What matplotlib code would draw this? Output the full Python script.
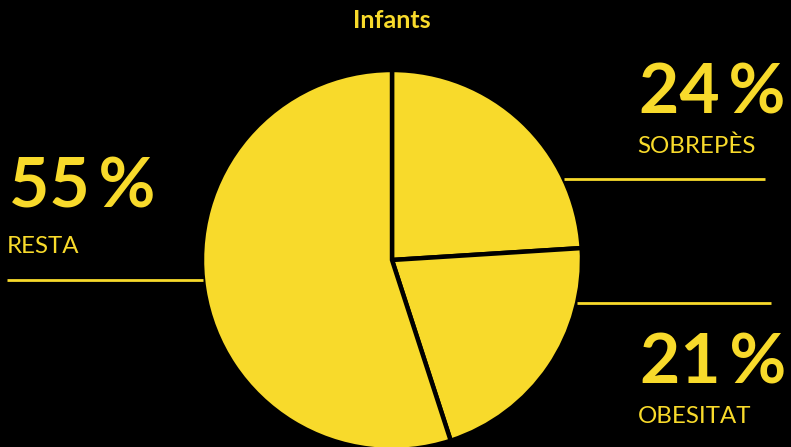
import matplotlib
matplotlib.use("Agg")
import matplotlib.pyplot as plt
import numpy as np

# dades
categories = ["SOBREPÈS", "OBESITAT", "RESTA"]
values = [24, 21, 55]
title = "Infants"

yellow = "#F8DA2B"
W, H = 791, 447

plt.rcParams['font.family'] = ['Lato', 'DejaVu Sans']

fig = plt.figure(figsize=(W / 100, H / 100), dpi=100, facecolor="black")
ax = fig.add_axes([0, 0, 1, 1])
ax.set_facecolor("black")

# pastís (centre i radi en píxels)
cx, cy, r = 392, H - 260, 190
ax.pie(values, colors=[yellow] * len(values), startangle=90, counterclock=False,
       center=(cx, cy), radius=r, frame=True,
       wedgeprops=dict(edgecolor="black", linewidth=3.2))
ax.set_xlim(0, W)
ax.set_ylim(0, H)
ax.axis("off")

def edge_x(ypix, side):
    dy = (H - ypix) - cy
    return cx + side * np.sqrt(r ** 2 - dy ** 2)

# etiquetes: (x text, baseline número, baseline nom, y línia, costat, final línia)
layout = [
    (639, 113, 153, 179, 1, 765),
    (640, 383, 423, 303, 1, 771),
    (9, 208, 253, 280, -1, 7),
]

for (cat, val), (tx, yn, yl, yline, side, xend) in zip(zip(categories, values), layout):
    ax.text(tx, H - yn, f"{val}\u2009%", color=yellow, fontsize=50, fontweight="bold",
            ha="left", va="baseline")
    ax.text(tx - 2, H - yl, cat, color=yellow, fontsize=17.3, ha="left", va="baseline")
    x0 = edge_x(yline, side)
    ax.plot([x0, xend], [H - yline, H - yline], color=yellow, lw=2, solid_capstyle="butt")

ax.text(392, H - 28, title, color=yellow, fontsize=18, fontweight="bold",
        ha="center", va="baseline")

fig.savefig("out.png", dpi=100, facecolor="black")
